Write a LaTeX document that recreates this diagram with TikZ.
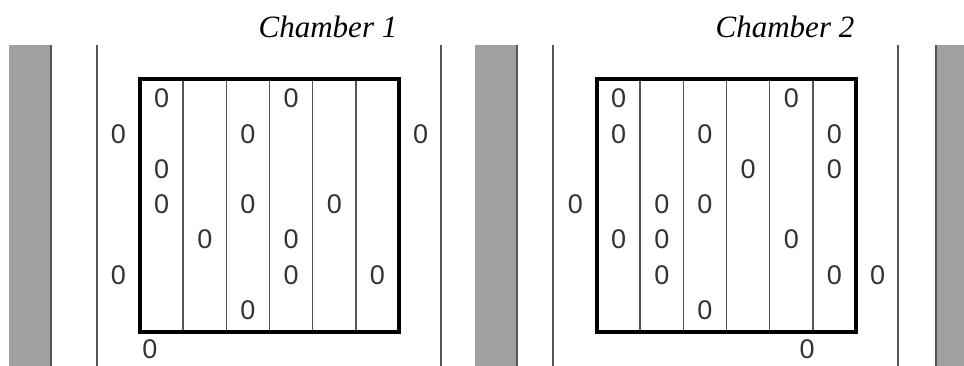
\documentclass[tikz,border=0pt]{standalone}
\usepackage{fontspec}
\setmainfont{Liberation Serif}
\setsansfont{Liberation Sans}
\usepackage{tikz}
\definecolor{wallgray}{RGB}{160,160,160}
\definecolor{linegray}{RGB}{85,85,85}
\tikzset{%
  every zero/.style={
    font=\sffamily\fontsize{27}{27}\selectfont,
    text=black!80,
    inner sep=0pt
  },
  chamber title/.style={
    font=\itshape\fontsize{31}{31}\selectfont,
    anchor=base
  },
  wall/.style={fill=wallgray},
  wall edge/.style={draw=linegray, line width=2pt},
  side line/.style={draw=linegray, line width=1.5pt},
  cell box/.style={draw=black, line width=3.5pt},
  divider/.style={draw=linegray, line width=1.5pt},
}

\begin{document}
\begin{tikzpicture}[x=1pt, y=-1pt]
        \useasboundingbox (0,0) rectangle (964,366);

        % walls and side lines
        \fill [wall] (9,45) rectangle (52,366);
        \fill [wall] (475,45) rectangle (518,366);
        \fill [wall] (935,45) rectangle (964,366);
        \foreach \x in {51,517,936}
          \draw [wall edge] (\x,45) -- (\x,366);
        \foreach \x in {97,441,553,898}
          \draw [side line] (\x,45) -- (\x,366);

        % chambers
        \foreach \ox in {140,597} {
          \foreach \i in {1,...,5}
            \draw [divider] (\ox+\i*43.17,79) -- (\ox+\i*43.17,332);
          \draw [cell box] (\ox,79) rectangle (\ox+259,332);
        }

        \node [chamber title] (title-1) at (328,38) {Chamber 1};
        \node [chamber title] (title-2) at (785,38) {Chamber 2};

        \foreach \col/\row [count=\i] in {0/2,0/6,1/1,1/3,1/4,2/5,3/2,3/4,3/7,4/1,4/5,4/6,5/4,6/6,7/2}
          \node [every zero] (zero-1-\i) at (140+\col*43.17-21.58, 63.2+\row*35.3) {0};
        \node [every zero] (zero-1-bottom) at (150,349) {0};

        \foreach \col/\row [count=\i] in {0/4,1/1,1/2,1/5,2/4,2/5,2/6,3/2,3/4,3/7,4/3,5/1,5/5,6/2,6/3,6/6,7/6}
          \node [every zero] (zero-2-\i) at (597+\col*43.17-21.58, 63.2+\row*35.3) {0};
        \node [every zero] (zero-2-bottom) at (807,349) {0};
\end{tikzpicture}
\end{document}
